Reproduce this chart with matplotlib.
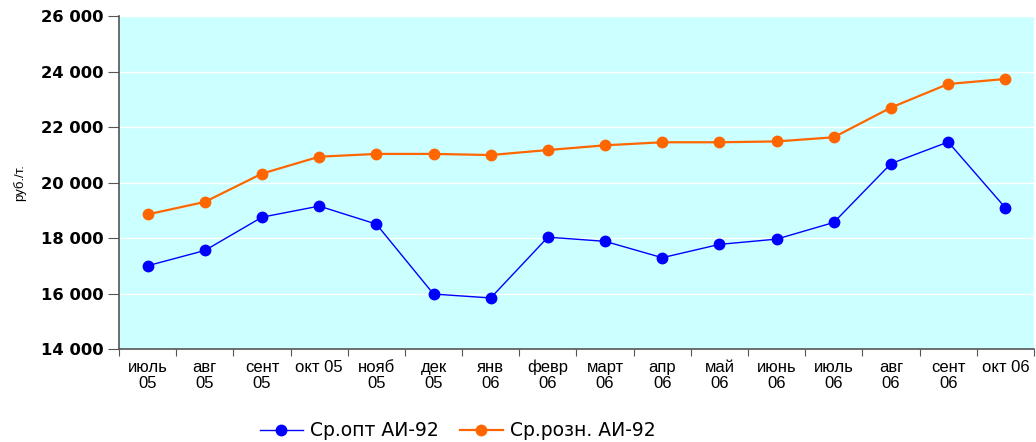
import matplotlib
matplotlib.use("Agg")
import matplotlib.pyplot as plt
import numpy as np
from matplotlib.ticker import FuncFormatter

months = ["июль\n05", "авг\n05", "сент\n05", "окт 05", "нояб\n05", "дек\n05",
          "янв\n06", "февр\n06", "март\n06", "апр\n06", "май\n06", "июнь\n06",
          "июль\n06", "авг\n06", "сент\n06", "окт 06"]
opt_ai92 = [17000, 17550, 18750, 19150, 18500, 15980, 15840, 18030,
            17880, 17290, 17770, 17960, 18560, 20680, 21460, 19090]
rozn_ai92 = [18850, 19300, 20320, 20930, 21030, 21030, 20990, 21170,
             21340, 21450, 21450, 21480, 21630, 22700, 23550, 23730]

plt.rcParams['font.family'] = ['Liberation Sans', 'DejaVu Sans']

fig = plt.figure(figsize=(10.36, 4.42), dpi=100)
ax = fig.add_axes([0.1149, 0.2104, 0.8831, 0.7534])
ax.set_facecolor("#CCFFFF")

x = np.arange(len(months))
ax.plot(x, opt_ai92, color="#0000FF", lw=1.0, marker="o", ms=7.5,
        label="Ср.опт АИ-92", zorder=3)
ax.plot(x, rozn_ai92, color="#FF6600", lw=1.6, marker="o", ms=7.5,
        label="Ср.розн. АИ-92", zorder=3)

ax.set_xlim(-0.5, len(months) - 0.5)
ax.set_ylim(14000, 26000)
ax.set_yticks(np.arange(14000, 26001, 2000))
ax.yaxis.set_major_formatter(FuncFormatter(lambda v, p: f"{int(v):,}".replace(",", " ")))
ax.grid(axis="y", color="white", lw=1)
ax.set_axisbelow(True)

# ticks between categories, labels at category centres
# (single-line labels get an empty 2nd line so all first lines share a baseline)
labels = [m if "\n" in m else m + "\n" for m in months]
ax.set_xticks(np.arange(-0.5, len(months), 1.0))
ax.set_xticklabels([])
ax.set_xticks(x, minor=True)
ax.set_xticklabels(labels, minor=True, fontsize=12, linespacing=1.1, va="baseline")
ax.tick_params(axis="x", which="major", direction="out", length=5, color="#555555")
ax.tick_params(axis="x", which="minor", length=0, pad=28)
ax.tick_params(axis="y", direction="out", length=8, color="#555555", pad=3)
for lab in ax.get_yticklabels():
    lab.set_family("DejaVu Sans")
    lab.set_fontsize(11.8)
    lab.set_fontweight("bold")

for s in ["top", "right"]:
    ax.spines[s].set_visible(False)
for s in ["left", "bottom"]:
    ax.spines[s].set_color("#555555")
    ax.spines[s].set_linewidth(1.2)

ax.set_ylabel("руб./т.", fontsize=9.5, fontstretch="condensed")
ax.yaxis.set_label_coords(-0.102, 0.5)

fig.legend(loc="center", bbox_to_anchor=(0.442, 0.025), ncol=2, frameon=False,
           prop={"family": "DejaVu Sans", "size": 13.5}, handlelength=2.3,
           columnspacing=1.1, handletextpad=0.4)

fig.savefig("out.png", dpi=100)
